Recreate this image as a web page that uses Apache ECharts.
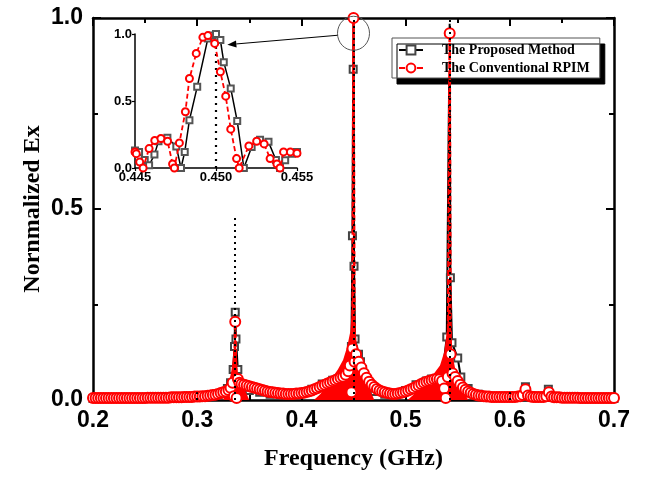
<!DOCTYPE html>
<html>
<head>
<meta charset="utf-8">
<script src="https://cdn.jsdelivr.net/npm/echarts@6/dist/echarts.min.js"></script>
<style>
  html, body { margin: 0; padding: 0; background: #fff; }
  #chart { width: 652px; height: 477px; }
</style>
</head>
<body>
<div id="chart"></div>
<script>
// ---- tick labels ----
const mainXLabels = ['0.2', '0.3', '0.4', '0.5', '0.6', '0.7'];
const mainYLabels = ['0.0', '0.5', '1.0'];
const insetXLabels = ['0.445', '0.450', '0.455'];
const insetYLabels = ['0.0', '0.5', '1.0'];

// ---- normalized Ex spectrum, proposed method [GHz, Ex] ----
const proposedMain = [
  [0.20,0.004],[0.21,0.004],[0.22,0.004],[0.23,0.004],[0.24,0.005],[0.25,0.005],[0.26,0.005],
  [0.27,0.006],[0.28,0.006],[0.29,0.007],[0.30,0.008],[0.31,0.010],[0.32,0.012],[0.325,0.018],
  [0.329,0.030],[0.332,0.045],[0.3345,0.080],[0.3358,0.140],[0.3365,0.230],[0.3372,0.160],
  [0.339,0.080],[0.3423,0.040],[0.345,0.030],[0.35,0.025],[0.36,0.020],[0.37,0.015],[0.38,0.013],
  [0.39,0.014],[0.40,0.018],[0.41,0.028],[0.42,0.042],[0.43,0.052],[0.435,0.055],[0.44,0.060],
  [0.445,0.090],[0.448,0.140],[0.4490,0.430],[0.4497,0.866],[0.4500,1.000],[0.4505,0.350],
  [0.4515,0.160],[0.4548,0.120],[0.4567,0.100],[0.4587,0.080],[0.4615,0.040],[0.465,0.030],
  [0.47,0.022],[0.48,0.015],[0.49,0.015],[0.50,0.025],[0.51,0.040],[0.52,0.050],[0.525,0.055],
  [0.53,0.055],[0.535,0.060],[0.5395,0.165],[0.5423,0.985],[0.5430,0.320],[0.5445,0.150],
  [0.5500,0.110],[0.553,0.060],[0.56,0.030],[0.57,0.015],[0.58,0.010],[0.59,0.008],[0.60,0.008],
  [0.61,0.010],[0.615,0.035],[0.62,0.012],[0.63,0.008],[0.637,0.028],[0.64,0.008],[0.65,0.006],
  [0.66,0.005],[0.67,0.005],[0.68,0.004],[0.69,0.004],[0.70,0.004]
];

// ---- normalized Ex spectrum, conventional RPIM [GHz, Ex] ----
const conventionalMain = [
  [0.2000,0.005],[0.2025,0.005],[0.2050,0.005],[0.2075,0.005],[0.2100,0.005],[0.2125,0.005],
  [0.2150,0.005],[0.2175,0.005],[0.2200,0.005],[0.2225,0.005],[0.2250,0.005],[0.2275,0.005],
  [0.2300,0.005],[0.2325,0.005],[0.2350,0.005],[0.2375,0.005],[0.2400,0.005],[0.2425,0.005],
  [0.2450,0.005],[0.2475,0.005],[0.2500,0.005],[0.2525,0.006],[0.2550,0.006],[0.2575,0.006],
  [0.2600,0.006],[0.2625,0.006],[0.2650,0.006],[0.2675,0.006],[0.2700,0.006],[0.2725,0.006],
  [0.2750,0.007],[0.2775,0.007],[0.2800,0.007],[0.2825,0.007],[0.2850,0.007],[0.2875,0.008],
  [0.2900,0.008],[0.2925,0.008],[0.2950,0.008],[0.2975,0.009],[0.3000,0.009],[0.3025,0.009],
  [0.3050,0.010],[0.3075,0.010],[0.3100,0.011],[0.3125,0.012],[0.3150,0.013],[0.3175,0.014],
  [0.3200,0.016],[0.3225,0.018],[0.3250,0.020],[0.3275,0.022],[0.3300,0.026],[0.3320,0.032],
  [0.3340,0.045],[0.3352,0.010],[0.3365,0.205],[0.3378,0.005],[0.3390,0.055],[0.3405,0.045],
  [0.3425,0.042],[0.3450,0.040],[0.3475,0.038],[0.3500,0.036],[0.3525,0.034],[0.3550,0.032],
  [0.3575,0.030],[0.3600,0.028],[0.3625,0.026],[0.3650,0.024],[0.3675,0.022],[0.3700,0.021],
  [0.3725,0.020],[0.3750,0.019],[0.3775,0.018],[0.3800,0.017],[0.3825,0.017],[0.3850,0.016],
  [0.3875,0.016],[0.3900,0.016],[0.3925,0.016],[0.3950,0.017],[0.3975,0.017],[0.4000,0.018],
  [0.4025,0.019],[0.4050,0.021],[0.4075,0.023],[0.4100,0.025],[0.4125,0.028],[0.4150,0.031],
  [0.4175,0.034],[0.4200,0.037],[0.4225,0.040],[0.4250,0.043],[0.4275,0.046],[0.4300,0.049],
  [0.4325,0.052],[0.4350,0.055],[0.4375,0.058],[0.4400,0.061],[0.4425,0.066],[0.4450,0.075],
  [0.4465,0.090],[0.4480,0.020],[0.4490,0.135],[0.4500,1.000],[0.4510,0.100],[0.4525,0.120],
  [0.4550,0.100],[0.4575,0.085],[0.4600,0.070],[0.4625,0.058],[0.4650,0.048],[0.4675,0.040],
  [0.4700,0.034],[0.4725,0.029],[0.4750,0.025],[0.4775,0.022],[0.4800,0.020],[0.4825,0.018],
  [0.4850,0.017],[0.4875,0.016],[0.4900,0.016],[0.4925,0.017],[0.4950,0.018],[0.4975,0.020],
  [0.5000,0.022],[0.5025,0.025],[0.5050,0.028],[0.5075,0.031],[0.5100,0.035],[0.5125,0.038],
  [0.5150,0.042],[0.5175,0.045],[0.5200,0.048],[0.5225,0.050],[0.5250,0.052],[0.5275,0.054],
  [0.5300,0.055],[0.5325,0.054],[0.5350,0.050],[0.5370,0.030],[0.5385,0.005],[0.5405,0.060],
  [0.5423,0.960],[0.5432,0.120],[0.5450,0.070],[0.5475,0.060],[0.5500,0.050],[0.5525,0.040],
  [0.5550,0.033],[0.5575,0.027],[0.5600,0.022],[0.5625,0.019],[0.5650,0.016],[0.5675,0.014],
  [0.5700,0.012],[0.5725,0.011],[0.5750,0.010],[0.5775,0.009],[0.5800,0.009],[0.5825,0.008],
  [0.5850,0.008],[0.5875,0.008],[0.5900,0.008],[0.5925,0.008],[0.5950,0.008],[0.5975,0.008],
  [0.6000,0.008],[0.6025,0.008],[0.6050,0.008],[0.6075,0.009],[0.6100,0.010],[0.6125,0.013],
  [0.6150,0.028],[0.6175,0.012],[0.6200,0.009],[0.6225,0.008],[0.6250,0.008],[0.6275,0.008],
  [0.6300,0.008],[0.6325,0.008],[0.6350,0.010],[0.6375,0.020],[0.6400,0.009],[0.6425,0.007],
  [0.6450,0.007],[0.6475,0.007],[0.6500,0.006],[0.6525,0.006],[0.6550,0.006],[0.6575,0.006],
  [0.6600,0.006],[0.6625,0.006],[0.6650,0.006],[0.6675,0.005],[0.6700,0.005],[0.6725,0.005],
  [0.6750,0.005],[0.6775,0.005],[0.6800,0.005],[0.6825,0.005],[0.6850,0.005],[0.6875,0.005],
  [0.6900,0.005],[0.6925,0.005],[0.6950,0.005],[0.6975,0.005],[0.7000,0.005]
];

// envelope of the fast RPIM ripple around each resonance
const conventionalRipple = [
  [0.200,0],[0.325,0],[0.328,0.025],[0.331,0.050],[0.333,0.080],[0.3350,0.130],[0.3365,0.200],
  [0.3378,0.120],[0.339,0.070],[0.342,0.040],[0.346,0.025],[0.350,0],[0.412,0],[0.418,0.015],
  [0.424,0.035],[0.430,0.060],[0.435,0.080],[0.440,0.105],[0.444,0.140],[0.447,0.180],
  [0.4485,0.240],[0.4495,0.350],[0.4505,0.300],[0.451,0.220],[0.453,0.150],[0.455,0.120],
  [0.458,0.085],[0.462,0.050],[0.466,0.025],[0.470,0],[0.502,0],[0.508,0.015],[0.518,0.040],
  [0.526,0.065],[0.533,0.090],[0.537,0.125],[0.5400,0.190],[0.5418,0.300],[0.5435,0.200],
  [0.545,0.120],[0.548,0.075],[0.552,0.040],[0.556,0.022],[0.560,0],[0.700,0]
];

// resonance markers: frequency and height of each dotted guide
const guideFreq = [0.300, 0.3365, 0.450, 0.5423, 0.600];
const guideTop  = [0.020, 0.480, 1.000, 1.000, 0.020];

// ---- zoom on the 0.45 GHz resonance ----
const proposedInset = [
  [0.4450,0.130],[0.44525,0.120],[0.4456,0.060],[0.44587,0.020],[0.4462,0.100],[0.44645,0.200],
  [0.4470,0.225],[0.44755,0.160],[0.44784,0.000],[0.44807,0.120],[0.44836,0.357],[0.44884,0.606],
  [0.4495,0.967],[0.44977,0.988],[0.4500,1.000],[0.45027,0.955],[0.45048,0.790],[0.45091,0.594],
  [0.45131,0.350],[0.45172,0.000],[0.4522,0.157],[0.45272,0.210],[0.45324,0.195],[0.4537,0.060],
  [0.45395,0.000],[0.45427,0.057],[0.45469,0.107],[0.4550,0.120]
];
const conventionalInset = [
  [0.4450,0.120],[0.44508,0.107],[0.44529,0.045],[0.4455,0.000],[0.44587,0.145],[0.44622,0.205],
  [0.4466,0.220],[0.44701,0.200],[0.44732,0.030],[0.44743,0.000],[0.44774,0.187],[0.44811,0.420],
  [0.44836,0.668],[0.44878,0.855],[0.44919,0.975],[0.4495,0.988],[0.44992,0.930],[0.45027,0.718],
  [0.4506,0.536],[0.45091,0.290],[0.45127,0.070],[0.45143,0.000],[0.45203,0.165],[0.45251,0.200],
  [0.45297,0.180],[0.45334,0.070],[0.45376,0.030],[0.45395,0.000],[0.45417,0.120],[0.45459,0.120],
  [0.4550,0.110]
];
const insetGuideFreq = 0.450;

// callout: ellipse around the main peak, arrow into the inset
const calloutCenter = [0.450, 0.96];
const calloutTarget = [0.4507, 0.92];

const SERIF = 'Liberation Serif, Times New Roman, serif';
const SANS = 'Liberation Sans, Arial, sans-serif';
const NAME_A = 'The Proposed Method';
const NAME_B = 'The Conventional RPIM';

const chart = echarts.init(document.getElementById('chart'), null, { renderer: 'canvas' });

function frameAxis(extra) {
  return Object.assign({
    type: 'value',
    axisLine: { show: true, onZero: false, lineStyle: { color: '#000', width: 2.5 } },
    axisTick: { show: true, inside: true, length: 8, lineStyle: { color: '#000', width: 2 } },
    minorTick: { show: true, splitNumber: 2, length: 5, lineStyle: { color: '#000', width: 2 } },
    splitLine: { show: false },
    minorSplitLine: { show: false }
  }, extra);
}

// peak tips of the proposed curve are drawn as bare line, no square
function tipless(points) {
  return points.map(p => p[1] > 0.9 ? { value: p, symbol: 'none' } : p);
}

const tickFont = { fontFamily: SANS, fontWeight: 'bold', fontSize: 23, color: '#000' };
const insetFont = { fontFamily: SANS, fontWeight: 'bold', fontSize: 13, color: '#000' };
const titleFont = { fontFamily: SERIF, fontWeight: 'bold', fontSize: 24, color: '#000' };

const guideLines = guideFreq.map((f, i) => [
  { coord: [f, 0] }, { coord: [f, guideTop[i]] }
]);

const option = {
  animation: false,
  backgroundColor: '#fff',
  grid: [
    { left: 93, right: 38, top: 18, bottom: 77 },
    { left: 135, top: 34, width: 162, height: 134 }
  ],
  xAxis: [
    frameAxis({
      gridIndex: 0, position: 'bottom', min: 0.2, max: 0.7, interval: 0.1,
      axisLabel: Object.assign({ margin: 9,
        formatter: v => mainXLabels[Math.round((v - 0.2) / 0.1)] }, tickFont),
      name: 'Frequency (GHz)', nameLocation: 'middle', nameGap: 47, nameMoveOverlap: false,
      nameTextStyle: titleFont
    }),
    frameAxis({
      gridIndex: 0, position: 'top', min: 0.2, max: 0.7, interval: 0.1,
      axisLabel: { show: false }
    }),
    {
      gridIndex: 1, type: 'value', min: 0.445, max: 0.455, interval: 0.005,
      axisLine: { onZero: false, lineStyle: { color: '#000', width: 1.5 } },
      axisTick: { show: true, inside: false, length: 3, lineStyle: { color: '#000', width: 1.2 } },
      splitLine: { show: false },
      axisLabel: Object.assign({ margin: 3,
        formatter: v => insetXLabels[Math.round((v - 0.445) / 0.005)] }, insetFont)
    }
  ],
  yAxis: [
    frameAxis({
      gridIndex: 0, position: 'left', min: 0, max: 1, interval: 0.5,
      axisLabel: Object.assign({ margin: 10,
        formatter: v => mainYLabels[Math.round(v / 0.5)] }, tickFont),
      name: 'Nornmalized Ex', nameLocation: 'middle', nameGap: 48, nameMoveOverlap: false,
      nameTextStyle: titleFont
    }),
    frameAxis({
      gridIndex: 0, position: 'right', min: 0, max: 1, interval: 0.5,
      axisLabel: { show: false }
    }),
    {
      gridIndex: 1, type: 'value', min: 0, max: 1, interval: 0.5,
      axisLine: { onZero: false, lineStyle: { color: '#000', width: 1.5 } },
      axisTick: { show: true, inside: false, length: 3, lineStyle: { color: '#000', width: 1.2 } },
      splitLine: { show: false },
      axisLabel: Object.assign({ margin: 3,
        formatter: v => insetYLabels[Math.round(v / 0.5)] }, insetFont)
    }
  ],
  legend: {
    data: [NAME_A, NAME_B],
    orient: 'vertical',
    left: 392, top: 38,
    padding: [5, 10, 3, 6],
    itemGap: 4,
    itemWidth: 24, itemHeight: 11,
    backgroundColor: '#fff',
    borderColor: '#555', borderWidth: 1,
    shadowColor: '#000', shadowBlur: 0, shadowOffsetX: 5, shadowOffsetY: 6,
    textStyle: { fontFamily: SERIF, fontWeight: 'bold', fontSize: 14, color: '#000', padding: [0, 0, 0, 14] }
  },
  series: [
    {
      name: NAME_A, type: 'line', xAxisIndex: 0, yAxisIndex: 0, z: 2,
      data: tipless(proposedMain),
      symbol: 'emptyRect', symbolSize: 7, showAllSymbol: true,
      lineStyle: { color: '#000', width: 2 },
      itemStyle: { color: '#444', borderWidth: 1 },
      markLine: {
        silent: true, symbol: ['none', 'none'], label: { show: false },
        lineStyle: { color: '#000', width: 2, type: [2, 4] },
        data: guideLines
      }
    },
    {
      name: 'ripple', type: 'line', xAxisIndex: 0, yAxisIndex: 0, z: 3, silent: true,
      data: conventionalRipple, showSymbol: false,
      lineStyle: { width: 0 },
      areaStyle: { color: '#ff0000', opacity: 1 }
    },
    {
      name: NAME_B, type: 'line', xAxisIndex: 0, yAxisIndex: 0, z: 4,
      data: conventionalMain,
      symbol: 'emptyCircle', symbolSize: 10, showAllSymbol: true,
      lineStyle: { color: '#ff0000', width: 2.5, type: [6, 3] },
      itemStyle: { color: '#ff0000', borderWidth: 1.2 }
    },
    {
      name: NAME_A, type: 'line', xAxisIndex: 2, yAxisIndex: 2, z: 5,
      data: proposedInset,
      symbol: 'emptyRect', symbolSize: 6, showAllSymbol: true,
      lineStyle: { color: '#000', width: 1.5 },
      itemStyle: { color: '#555', borderWidth: 1 },
      markLine: {
        silent: true, symbol: ['none', 'none'], label: { show: false },
        lineStyle: { color: '#000', width: 2.2, type: [2, 5] },
        data: [[{ coord: [insetGuideFreq, 0] }, { coord: [insetGuideFreq, 1] }]]
      }
    },
    {
      name: NAME_B, type: 'line', xAxisIndex: 2, yAxisIndex: 2, z: 6,
      data: conventionalInset,
      symbol: 'emptyCircle', symbolSize: 7, showAllSymbol: true,
      lineStyle: { color: '#ff0000', width: 1.8, type: [5, 3] },
      itemStyle: { color: '#ff0000', borderWidth: 1 }
    }
  ]
};

chart.setOption(option);

// callout ellipse and arrow placed from data coordinates
const c = chart.convertToPixel({ gridIndex: 0 }, calloutCenter);
const t = chart.convertToPixel({ gridIndex: 1 }, calloutTarget);
const rx = 16, ry = 17;
const s = [c[0] - rx, c[1] + 2];
const dx = t[0] - s[0], dy = t[1] - s[1];
const len = Math.hypot(dx, dy);
const ux = dx / len, uy = dy / len;
const headL = 9, headW = 3.5;
const base = [t[0] - ux * headL, t[1] - uy * headL];

chart.setOption({
  graphic: [
    { type: 'ellipse', z: 10, silent: true,
      shape: { cx: c[0], cy: c[1], rx: rx, ry: ry },
      style: { fill: 'none', stroke: '#555', lineWidth: 1 } },
    { type: 'line', z: 10, silent: true,
      shape: { x1: s[0], y1: s[1], x2: base[0], y2: base[1] },
      style: { stroke: '#000', lineWidth: 1 } },
    { type: 'polygon', z: 10, silent: true,
      shape: { points: [t, [base[0] - uy * headW, base[1] + ux * headW], [base[0] + uy * headW, base[1] - ux * headW]] },
      style: { fill: '#000' } }
  ]
});
</script>
</body>
</html>
